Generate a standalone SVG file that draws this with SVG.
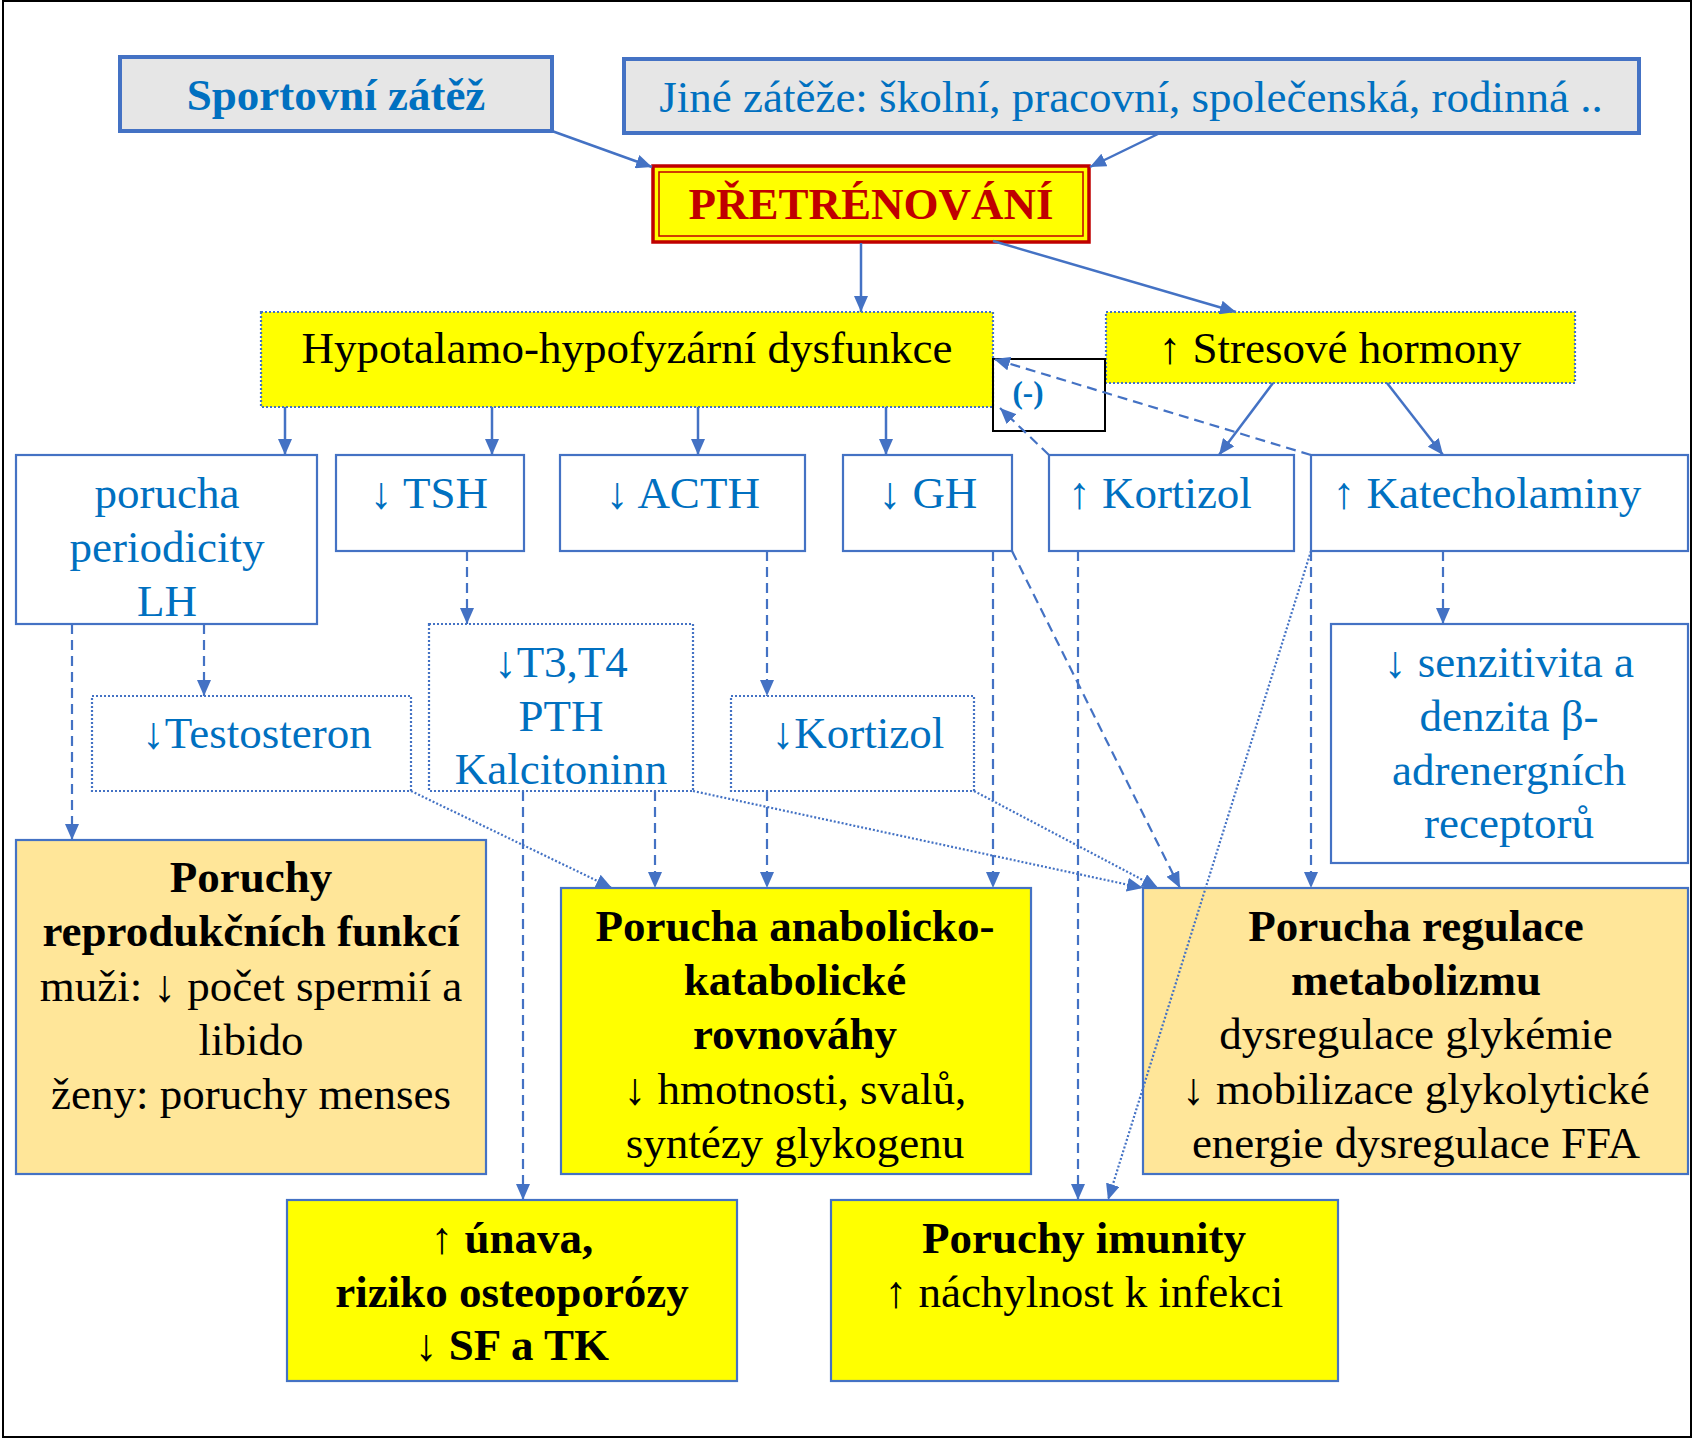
<svg xmlns="http://www.w3.org/2000/svg" width="1692" height="1440" viewBox="0 0 1692 1440">
<defs>
<style>
text{font-family:"Liberation Serif","Times New Roman",serif;font-size:45px;text-anchor:middle}
.blue{fill:#0070c0}
.blk{fill:#000}
.b{font-weight:bold}
.gray{fill:#e6e6e6;stroke:#4472c4;stroke-width:4}
.wbox{fill:#fff;stroke:#4472c4;stroke-width:2.2}
.dbox{fill:#fff;stroke:#4472c4;stroke-width:2.2;stroke-dasharray:2 2}
.ybox{fill:#ffff00;stroke:#4472c4;stroke-width:2.2;stroke-dasharray:2 2}
.ysol{fill:#ffff00;stroke:#4472c4;stroke-width:2.2}
.obox{fill:#ffe699;stroke:#4472c4;stroke-width:2.2}
.solid{fill:none;stroke:#4472c4;stroke-width:2.5;marker-end:url(#ah)}
.dash{fill:none;stroke:#4472c4;stroke-width:2.2;stroke-dasharray:10 6;marker-end:url(#ah)}
.dot{fill:none;stroke:#4472c4;stroke-width:2.2;stroke-dasharray:2 2;marker-end:url(#ah)}
</style>
<marker id="ah" markerUnits="userSpaceOnUse" markerWidth="16" markerHeight="14" refX="16" refY="7" orient="auto">
<path d="M0,0 L16,7 L0,14 z" fill="#4472c4"/>
</marker>
</defs>
<rect x="3" y="1" width="1688" height="1436" fill="#fff" stroke="#000" stroke-width="2"/>

<g id="sportovni">
<rect class="gray" x="120" y="57" width="432" height="74"/>
<text class="blue b" x="336" y="110">Sportovní zátěž</text>
</g>
<g id="jine">
<rect class="gray" x="624" y="59" width="1015" height="74"/>
<text class="blue" x="1131" y="112">Jiné zátěže: školní, pracovní, společenská, rodinná ..</text>
</g>
<g id="pretrenovani">
<rect x="653" y="166" width="436" height="76" fill="#ffff00" stroke="#c00000" stroke-width="3.5"/>
<rect x="659" y="172" width="424" height="64" fill="none" stroke="#c00000" stroke-width="1.5"/>
<text class="b" fill="#c00000" x="871" y="219">PŘETRÉNOVÁNÍ</text>
</g>
<g id="hypotalamo">
<rect class="ybox" x="261" y="312" width="732" height="95"/>
<text class="blk" x="627" y="363">Hypotalamo-hypofyzární dysfunkce</text>
</g>
<g id="stresove">
<rect class="ybox" x="1106" y="312" width="469" height="71"/>
<text class="blk" x="1340" y="363">↑ Stresové hormony</text>
</g>
<g id="minus">
<rect x="993" y="359" width="112" height="72" fill="none" stroke="#000" stroke-width="2"/>
<text class="blue b" x="1028" y="403" style="font-size:31px">(-)</text>
</g>
<g id="lh">
<rect class="wbox" x="16" y="455" width="301" height="169"/>
<text class="blue" x="167" y="508">porucha</text>
<text class="blue" x="167" y="562">periodicity</text>
<text class="blue" x="167" y="616">LH</text>
</g>
<g id="tsh">
<rect class="wbox" x="336" y="455" width="188" height="96"/>
<text class="blue" x="429" y="508">↓ TSH</text>
</g>
<g id="acth">
<rect class="wbox" x="560" y="455" width="245" height="96"/>
<text class="blue" x="683" y="508">↓ ACTH</text>
</g>
<g id="gh">
<rect class="wbox" x="843" y="455" width="169" height="96"/>
<text class="blue" x="928" y="508">↓ GH</text>
</g>
<g id="kortizol-up">
<rect class="wbox" x="1049" y="455" width="245" height="96"/>
<text class="blue" x="1160" y="508">↑ Kortizol</text>
</g>
<g id="katecholaminy">
<rect class="wbox" x="1311" y="455" width="377" height="96"/>
<text class="blue" x="1487" y="508">↑ Katecholaminy</text>
</g>
<g id="testosteron">
<rect class="dbox" x="92" y="696" width="319" height="95"/>
<text class="blue" x="257" y="748">↓Testosteron</text>
</g>
<g id="t3t4">
<rect class="dbox" x="429" y="624" width="264" height="167"/>
<text class="blue" x="561" y="677">↓T3,T4</text>
<text class="blue" x="561" y="731">PTH</text>
<text class="blue" x="561" y="784">Kalcitoninn</text>
</g>
<g id="kortizol-down">
<rect class="dbox" x="731" y="696" width="243" height="95"/>
<text class="blue" x="858" y="748">↓Kortizol</text>
</g>
<g id="senzitivita">
<rect class="wbox" x="1331" y="624" width="357" height="239"/>
<text class="blue" x="1509" y="677">↓ senzitivita a</text>
<text class="blue" x="1509" y="731">denzita β-</text>
<text class="blue" x="1509" y="785">adrenergních</text>
<text class="blue" x="1509" y="838">receptorů</text>
</g>
<g id="reprodukce">
<rect class="obox" x="16" y="840" width="470" height="334"/>
<text class="blk b" x="251" y="892">Poruchy</text>
<text class="blk b" x="251" y="946">reprodukčních funkcí</text>
<text class="blk" x="251" y="1001">muži: ↓ počet spermií a</text>
<text class="blk" x="251" y="1055">libido</text>
<text class="blk" x="251" y="1109">ženy: poruchy menses</text>
</g>
<g id="anabolicko">
<rect class="ysol" x="561" y="888" width="470" height="286"/>
<text class="blk b" x="795" y="941">Porucha anabolicko-</text>
<text class="blk b" x="795" y="995">katabolické</text>
<text class="blk b" x="795" y="1049">rovnováhy</text>
<text class="blk" x="795" y="1104">↓ hmotnosti, svalů,</text>
<text class="blk" x="795" y="1158">syntézy glykogenu</text>
</g>
<g id="metabolizmus">
<rect class="obox" x="1143" y="888" width="545" height="286"/>
<text class="blk b" x="1416" y="941">Porucha regulace</text>
<text class="blk b" x="1416" y="995">metabolizmu</text>
<text class="blk" x="1416" y="1049">dysregulace glykémie</text>
<text class="blk" x="1416" y="1104">↓ mobilizace glykolytické</text>
<text class="blk" x="1416" y="1158">energie dysregulace FFA</text>
</g>
<g id="unava">
<rect class="ysol" x="287" y="1200" width="450" height="181"/>
<text class="blk b" x="512" y="1253">↑ únava,</text>
<text class="blk b" x="512" y="1307">riziko osteoporózy</text>
<text class="blk b" x="512" y="1360">↓ SF a TK</text>
</g>
<g id="imunita">
<rect class="ysol" x="831" y="1200" width="507" height="181"/>
<text class="blk b" x="1084" y="1253">Poruchy imunity</text>
<text class="blk" x="1084" y="1307">↑ náchylnost k infekci</text>
</g>

<g id="connectors">
<line class="solid" x1="552" y1="131" x2="652" y2="167"/>
<line class="solid" x1="1160" y1="133" x2="1090" y2="167"/>
<line class="solid" x1="861" y1="243" x2="861" y2="312"/>
<line class="solid" x1="993" y1="241" x2="1236" y2="312"/>
<line class="solid" x1="285" y1="407" x2="285" y2="455"/>
<line class="solid" x1="492" y1="407" x2="492" y2="455"/>
<line class="solid" x1="698" y1="407" x2="698" y2="455"/>
<line class="solid" x1="886" y1="407" x2="886" y2="455"/>
<line class="solid" x1="1273" y1="383" x2="1219" y2="455"/>
<line class="solid" x1="1387" y1="383" x2="1443" y2="455"/>
<line class="dash" x1="1311" y1="455" x2="994" y2="359"/>
<line class="dash" x1="1049" y1="455" x2="1000" y2="408"/>
<line class="dash" x1="467" y1="551" x2="467" y2="624"/>
<line class="dash" x1="767" y1="551" x2="767" y2="696"/>
<line class="dash" x1="204" y1="624" x2="204" y2="696"/>
<line class="dash" x1="72" y1="624" x2="72" y2="840"/>
<line class="dash" x1="1443" y1="551" x2="1443" y2="624"/>
<line class="dash" x1="523" y1="791" x2="523" y2="1200"/>
<line class="dash" x1="655" y1="791" x2="655" y2="888"/>
<line class="dash" x1="767" y1="791" x2="767" y2="888"/>
<line class="dash" x1="993" y1="551" x2="993" y2="888"/>
<line class="dash" x1="1078" y1="551" x2="1078" y2="1200"/>
<line class="dash" x1="1311" y1="551" x2="1311" y2="888"/>
<line class="dash" x1="1012" y1="551" x2="1180" y2="888"/>
<line class="dot" x1="411" y1="791" x2="612" y2="888"/>
<line class="dot" x1="693" y1="791" x2="1143" y2="888"/>
<line class="dot" x1="974" y1="791" x2="1158" y2="888"/>
<line class="dot" x1="1311" y1="551" x2="1108" y2="1200"/>
</g>
</svg>
